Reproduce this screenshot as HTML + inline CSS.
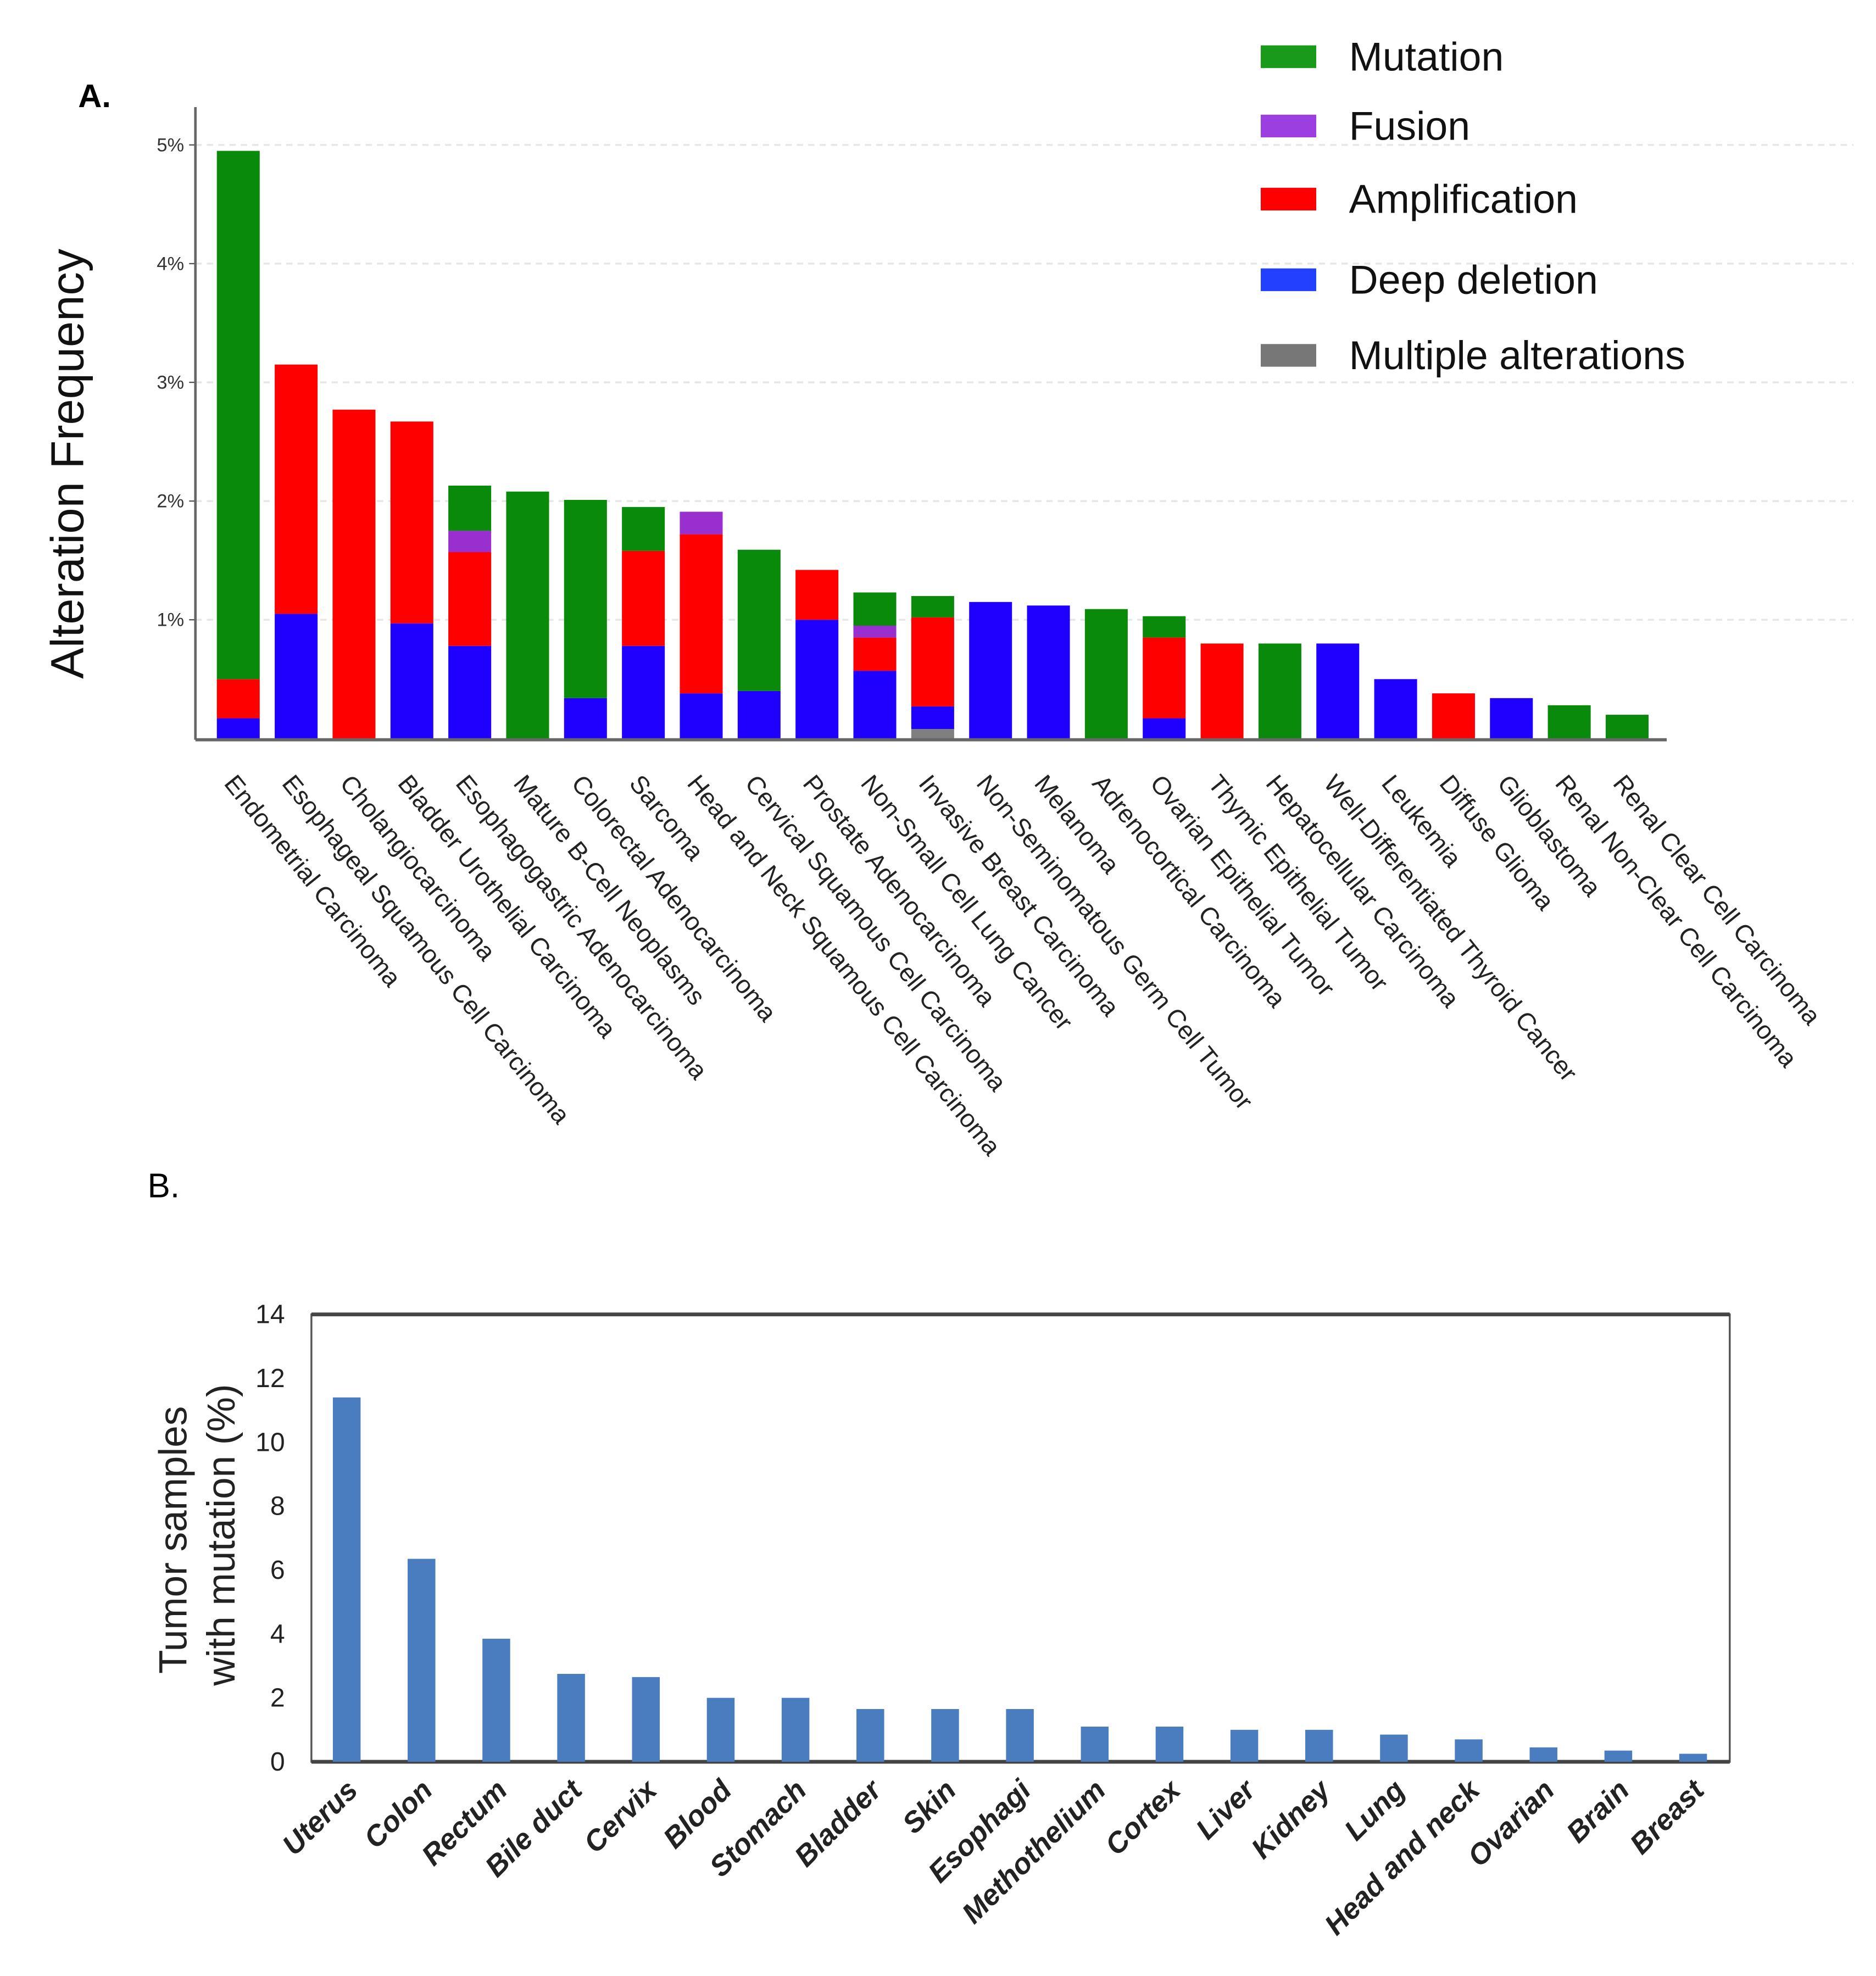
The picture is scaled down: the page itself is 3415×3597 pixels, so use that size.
<!DOCTYPE html>
<html><head><meta charset="utf-8"><style>
html,body{margin:0;padding:0;background:#fff}
svg{display:block;font-family:"Liberation Sans",sans-serif}
</style></head><body>
<svg id="chart" width="3415" height="3597" viewBox="0 0 1488 1568" preserveAspectRatio="none" xmlns="http://www.w3.org/2000/svg">
<rect width="1500" height="1580" fill="#fff"/>
<g id="pa"></g>
<g id="pb"></g>
</svg>
<script>
const catsA=["Endometrial Carcinoma","Esophageal Squamous Cell Carcinoma","Cholangiocarcinoma","Bladder Urothelial Carcinoma","Esophagogastric Adenocarcinoma","Mature B-Cell Neoplasms","Colorectal Adenocarcinoma","Sarcoma","Head and Neck Squamous Cell Carcinoma","Cervical Squamous Cell Carcinoma","Prostate Adenocarcinoma","Non-Small Cell Lung Cancer","Invasive Breast Carcinoma","Non-Seminomatous Germ Cell Tumor","Melanoma","Adrenocortical Carcinoma","Ovarian Epithelial Tumor","Thymic Epithelial Tumor","Hepatocellular Carcinoma","Well-Differentiated Thyroid Cancer","Leukemia","Diffuse Glioma","Glioblastoma","Renal Non-Clear Cell Carcinoma","Renal Clear Cell Carcinoma"];
const multipleA=[0,0,0,0,0,0,0,0,0,0,0,0,0.08,0,0,0,0,0,0,0,0,0,0,0,0];
const deletionA=[0.17,1.05,0,0.97,0.78,0,0.34,0.78,0.38,0.40,1.0,0.57,0.19,1.15,1.12,0,0.17,0,0,0.80,0.50,0,0.34,0,0];
const amplificationA=[0.33,2.10,2.77,1.70,0.79,0,0,0.80,1.34,0,0.42,0.28,0.75,0,0,0,0.68,0.80,0,0,0,0.38,0,0,0];
const fusionA=[0,0,0,0,0.18,0,0,0,0.19,0,0,0.10,0,0,0,0,0,0,0,0,0,0,0,0,0];
const mutationA=[4.45,0,0,0,0.38,2.08,1.67,0.37,0,1.19,0,0.28,0.18,0,0,1.09,0.18,0,0.80,0,0,0,0,0.28,0.20];
const ticksA=[1,2,3,4,5];
const tickLabelsA=["1%","2%","3%","4%","5%"];
const legendA=["Mutation","Fusion","Amplification","Deep deletion","Multiple alterations"];

const catsB=["Uterus","Colon","Rectum","Bile duct","Cervix","Blood","Stomach","Bladder","Skin","Esophagi","Methothelium","Cortex","Liver","Kidney","Lung","Head and neck","Ovarian","Brain","Breast"];
const valsB=[11.4,6.35,3.85,2.75,2.65,2.0,2.0,1.65,1.65,1.65,1.1,1.1,1.0,1.0,0.85,0.7,0.45,0.35,0.25];
const ticksB=[0,2,4,6,8,10,12,14];

const NS="http://www.w3.org/2000/svg";
function mk(parent,tag,attrs,text){const e=document.createElementNS(NS,tag);for(const k in attrs)e.setAttribute(k,attrs[k]);if(text!==undefined)e.textContent=text;parent.appendChild(e);return e;}

// Panel A
const pa=document.getElementById('pa');
const yA=v=>586-v*94.2;
const xA=i=>189+i*45.9;
let t=mk(pa,'text',{x:62,y:85,'font-size':26,'font-weight':'bold'},'A.');

ticksA.forEach((v,i)=>{
 let g=mk(pa,'line',{x1:155,x2:1470,y1:yA(v),y2:yA(v),stroke:'#e6e6e6','stroke-width':1.5,'stroke-dasharray':'5,4'});
 
 let tl=mk(pa,'text',{x:146,y:yA(v)+5,'font-size':15,'text-anchor':'end',fill:'#333'},tickLabelsA[i]);
 
 mk(pa,'line',{x1:150,x2:155,y1:yA(v),y2:yA(v),stroke:'#555'});
});
t=mk(pa,'text',{x:0,y:0,'font-size':37,'text-anchor':'middle',transform:'translate(66,368) rotate(-90)',fill:'#111'},'Alteration Frequency');

const series=[[multipleA,'#7f7f7f'],[deletionA,'#1f00ff'],[amplificationA,'#ff0000'],[fusionA,'#9a2fd0'],[mutationA,'#0a8a0a']];
catsA.forEach((c,i)=>{
 let acc=0;
 series.forEach(([arr,col])=>{
  const v=arr[i]; if(v<=0)return;
  const r=mk(pa,'rect',{x:xA(i)-17,y:yA(acc+v),width:34,height:yA(acc)-yA(acc+v),fill:col});
  
  
  acc+=v;
 });
 const l=mk(pa,'text',{x:0,y:0,'font-size':20,fill:'#222',transform:`translate(${xA(i)-12},${622}) rotate(51)`},c);
 
 
});
t=mk(pa,'line',{x1:155,x2:155,y1:85,y2:587,stroke:'#666','stroke-width':2});

t=mk(pa,'line',{x1:155,x2:1322,y1:587,y2:587,stroke:'#666','stroke-width':2.5});

const legY=[45,100,158,222,282];
const legC=['#1a9a1a','#9b3fe0','#ff0000','#2340ff','#777'];
legendA.forEach((n,i)=>{
 const s=mk(pa,'rect',{x:1000,y:legY[i]-9,width:44,height:18,fill:legC[i]});
 
 const lt=mk(pa,'text',{x:1070,y:legY[i]+11,'font-size':32,fill:'#111'},n);
 
});

// Panel B
const pb=document.getElementById('pb');
const yB=v=>1398-v*25.36;
const xB=i=>275+i*59.33;
t=mk(pb,'text',{x:117,y:950,'font-size':27},'B.');

t=mk(pb,'rect',{x:247,y:1043,width:1125,height:355,fill:'none',stroke:'#555','stroke-width':1.5});

mk(pb,'line',{x1:247,x2:1372,y1:1043,y2:1043,stroke:'#444','stroke-width':3});
mk(pb,'line',{x1:247,x2:1372,y1:1398,y2:1398,stroke:'#444','stroke-width':3});
ticksB.forEach(v=>{
 const tl=mk(pb,'text',{x:226,y:yB(v)+7,'font-size':21,'text-anchor':'end',fill:'#222'},String(v));
 
});
catsB.forEach((c,i)=>{
 const r=mk(pb,'rect',{x:xB(i)-11,y:yB(valsB[i]),width:22,height:yB(0)-yB(valsB[i]),fill:'#4a7cc0'});
 
 
 const l=mk(pb,'text',{x:0,y:0,'font-size':23,'font-weight':'bold','font-style':'italic','text-anchor':'end',fill:'#222',transform:`translate(${xB(i)+10},${1422}) rotate(-45)`},c);
 
 
});
t=mk(pb,'text',{x:0,y:0,'font-size':31,'text-anchor':'middle',transform:'translate(148,1222) rotate(-90)',fill:'#222'},'Tumor samples');

t=mk(pb,'text',{x:0,y:0,'font-size':31,'text-anchor':'middle',transform:'translate(186,1218) rotate(-90)',fill:'#222'},'with mutation (%)');

</script>
</body></html>
